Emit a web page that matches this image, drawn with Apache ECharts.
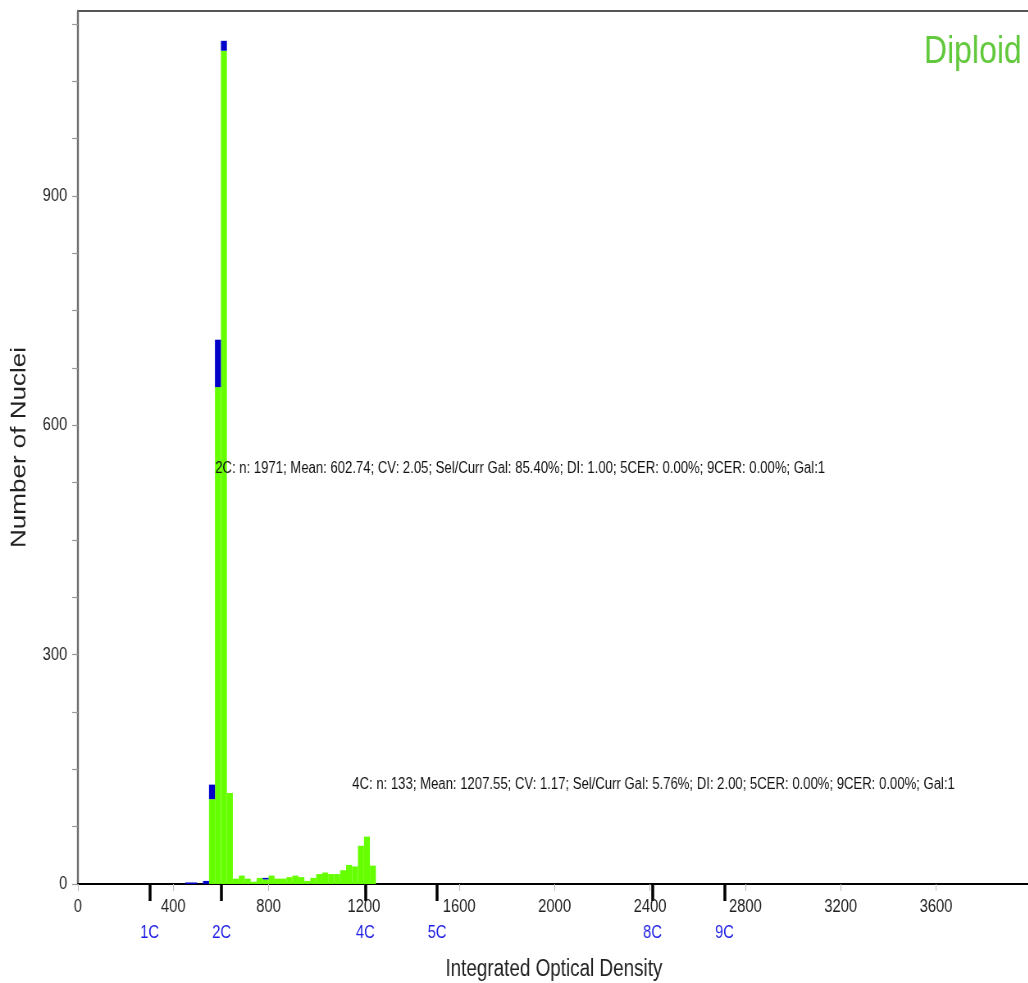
<!DOCTYPE html>
<html>
<head>
<meta charset="utf-8">
<script src="https://cdn.jsdelivr.net/npm/echarts@6/dist/echarts.min.js"></script>
<style>
html,body{margin:0;padding:0;background:#fff;overflow:hidden;width:1028px;height:983px;}
#chart{width:1254px;height:983px;transform:scaleX(0.82);transform-origin:0 0;}
</style>
</head>
<body>
<div id="chart"></div>
<script>
// ---- data ----
const binWidth = 25;
// green (main population) histogram: bin start -> count
const greenBins = [550,575,600,625,650,675,700,725,750,775,800,825,850,875,900,925,950,975,1000,1025,1050,1075,1100,1125,1150,1175,1200,1225];
const greenCounts = [111,650,1090,119,7,11,7,3,8,6,11,7,7,9,11,9,4,8,13,15,13,13,18,25,23,50,62,24];
// blue (other population) stacked on top of green
const blueBins = [450,475,525,550,575,600,775];
const blueCounts = [2,2,4,19,62,13,2];
const xTickValues = [0,400,800,1200,1600,2000,2400,2800,3200,3600];
const yTickValues = [0,300,600,900];
const yMinorTicks = [0,75,150,225,300,375,450,525,600,675,750,825,900,975,1050,1125];
const cLabels = ['1C','2C','4C','5C','8C','9C'];
const cValues = [301.37,602.74,1205.5,1506.9,2411,2712.3];
const annotations = [
  {x:576, y:543, text:'2C: n: 1971; Mean: 602.74; CV: 2.05; Sel/Curr Gal: 85.40%; DI: 1.00; 5CER: 0.00%; 9CER: 0.00%; Gal:1'},
  {x:1151, y:130, text:'4C: n: 133; Mean: 1207.55; CV: 1.17; Sel/Curr Gal: 5.76%; DI: 2.00; 5CER: 0.00%; 9CER: 0.00%; Gal:1'}
];

const FONT = "'Liberation Sans',Arial,sans-serif";
const GREEN = '#66ff00';
const BLUE = '#0000c8';

const greenData = greenBins.map((b,i)=>[b, greenCounts[i]]);
const blueData = blueBins.map((b,i)=>{
  const gi = greenBins.indexOf(b);
  const base = gi >= 0 ? greenCounts[gi] : 0;
  return [b, base, blueCounts[i]];
});

function barRender(color, stacked){
  return function(params, api){
    const x0 = api.value(0);
    const base = stacked ? api.value(1) : 0;
    const v = stacked ? api.value(2) : api.value(1);
    const p0 = api.coord([x0, base + v]);
    const p1 = api.coord([x0 + binWidth, base]);
    return {
      type:'rect',
      shape:{x:p0[0], y:p0[1], width:p1[0]-p0[0], height:p1[1]-p0[1]},
      style:{fill:color}
    };
  };
}
const plain = v => String(v);

const chart = echarts.init(document.getElementById('chart'), null, {renderer:'canvas'});
chart.setOption({
  animation:false,
  backgroundColor:'#fff',
  grid:{left:95, right:-2, top:11, bottom:99, outerBoundsMode:'none', containLabel:false,
        show:true, borderColor:'#555', borderWidth:2, backgroundColor:'transparent'},
  xAxis:[{
    type:'value', min:0, max:3994,
    splitLine:{show:false},
    axisLine:{show:true, lineStyle:{color:'#000', width:2}},
    axisTick:{show:true, length:7, lineStyle:{color:'#bbb', width:1}, customValues:xTickValues},
    axisLabel:{customValues:xTickValues, margin:14, fontFamily:FONT, fontSize:18, color:'#222', formatter:plain},
    name:'Integrated Optical Density', nameLocation:'middle', nameGap:74,
    nameTextStyle:{fontFamily:FONT, fontSize:23, color:'#222'}
  },{
    type:'value', min:0, max:3994, position:'bottom',
    splitLine:{show:false},
    axisLine:{show:false},
    axisTick:{show:true, length:17, lineStyle:{color:'#000', width:3.5}, customValues:cValues},
    axisLabel:{customValues:cValues, margin:40, fontFamily:FONT, fontSize:18, color:'#1f1fe6',
      formatter:function(v){
        let best=0, d=Infinity;
        cValues.forEach((c,i)=>{ if(Math.abs(c-v)<d){d=Math.abs(c-v); best=i;} });
        return cLabels[best];
      }}
  }],
  yAxis:{
    type:'value', min:0, max:1142,
    splitLine:{show:false},
    axisLine:{show:true, lineStyle:{color:'#707070', width:2.4}},
    axisTick:{show:true, length:7, lineStyle:{color:'#999', width:1.2}, customValues:yMinorTicks},
    axisLabel:{customValues:yTickValues, margin:13, fontFamily:FONT, fontSize:18, color:'#222', formatter:plain},
    name:'Number of Nuclei', nameLocation:'middle', nameGap:58, nameRotate:90,
    nameTextStyle:{fontFamily:FONT, fontSize:26, color:'#222'}
  },
  graphic:[{
    type:'text', right:8, top:33,
    style:{text:'Diploid', fontFamily:FONT, fontSize:39, fill:'#62c83c'}
  }],
  series:[{
    type:'custom', name:'green', xAxisIndex:0, renderItem:barRender(GREEN,false),
    data:greenData, encode:{x:0, y:1}
  },{
    type:'custom', name:'blue', xAxisIndex:0, renderItem:barRender(BLUE,true),
    data:blueData, encode:{x:0, y:[1,2]}
  },{
    type:'custom', name:'annot', xAxisIndex:0, clip:false,
    data:annotations.map(a=>[a.x, a.y]),
    renderItem:function(params, api){
      const p = api.coord([api.value(0), api.value(1)]);
      return {type:'text', x:p[0], y:p[1], style:{text:annotations[params.dataIndex].text, fontFamily:FONT, fontSize:16, fill:'#111', verticalAlign:'middle', align:'left'}};
    }
  }]
});
</script>
</body>
</html>
